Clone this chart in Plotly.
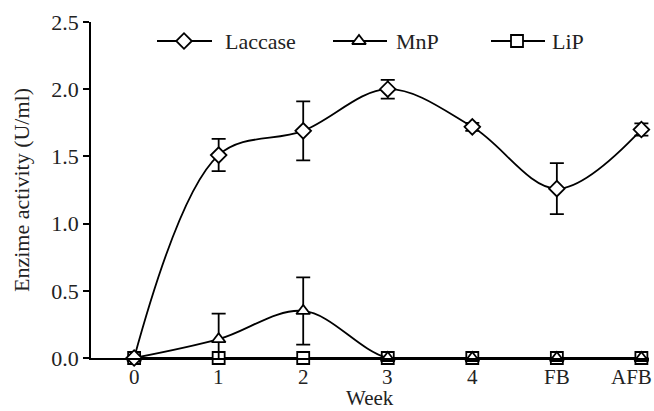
import plotly.graph_objects as go

weeks = ["0", "1", "2", "3", "4", "FB", "AFB"]
laccase = [0.0, 1.51, 1.69, 2.00, 1.72, 1.26, 1.70]
laccase_err = [0.0, 0.12, 0.22, 0.07, 0.03, 0.19, 0.045]
mnp = [0.0, 0.14, 0.35, 0.0, 0.0, 0.0, 0.0]
mnp_err = [0.0, 0.19, 0.25, 0.0, 0.0, 0.0, 0.0]
lip = [0.0, 0.0, 0.0, 0.0, 0.0, 0.0, 0.0]
y_ticks = [0.0, 0.5, 1.0, 1.5, 2.0, 2.5]

series_names = ["Laccase", "MnP", "LiP"]
series_symbols = ["diamond", "triangle-up", "square"]

xs = list(range(len(weeks)))
FONT = "Liberation Serif"
BLACK = "#000000"
TXT = "#222222"

W, H = 654, 411
ML, MR, MT, MB = 91, 5, 22, 53
PW = W - ML - MR
PH = H - MT - MB

def px_to_paper_x(px):
    return (px - ML) / PW

def px_to_paper_y(py):
    return (H - MB - py) / PH

fig = go.Figure()

def add(name, y, err, symbol):
    kw = {}
    if err is not None:
        kw["error_y"] = dict(type="data", array=err, visible=True,
                             color=BLACK, thickness=1.8, width=7)
    fig.add_trace(go.Scatter(
        x=xs, y=y, name=name, mode="lines+markers",
        line=dict(color=BLACK, width=1.8, shape="spline", smoothing=1.0),
        marker=dict(symbol=symbol, size=12, color="white",
                    line=dict(color=BLACK, width=1.8)),
        cliponaxis=False, showlegend=False, **kw,
    ))

add("LiP", lip, None, "square")
add("MnP", mnp, mnp_err, "triangle-up")
add("Laccase", laccase, laccase_err, "diamond")

# manual legend (line start, marker centre, line end, text left) in page px
leg_layout = [(157, 184, 212, 223), (333, 359, 387, 394), (491, 517, 545, 550)]
leg_y = px_to_paper_y(41)
shapes, annots, mk_x, mk_y = [], [], [], []
for name, (x0, xm, x1, xt) in zip(series_names, leg_layout):
    shapes.append(dict(type="line", xref="paper", yref="paper",
                       x0=px_to_paper_x(x0), x1=px_to_paper_x(x1), y0=leg_y, y1=leg_y,
                       line=dict(color=BLACK, width=1.8), layer="below"))
    annots.append(dict(text=name, xref="paper", yref="paper", x=px_to_paper_x(xt), y=leg_y,
                       xanchor="left", yanchor="middle", showarrow=False,
                       font=dict(family=FONT, size=22, color=TXT)))
    mk_x.append(px_to_paper_x(xm))
    mk_y.append(leg_y)

# x tick labels as text (last one nudged left to stay inside the window, as in the reference)
for i, lab in enumerate(weeks):
    annots.append(dict(text=lab, xref="x", yref="paper", x=xs[i], y=px_to_paper_y(377),
                       xanchor="center", yanchor="middle", showarrow=False,
                       xshift=-10 if i == len(weeks) - 1 else 0,
                       font=dict(family=FONT, size=21, color=TXT)))
# x axis title
annots.append(dict(text="Week", xref="paper", yref="paper", x=0.5, y=px_to_paper_y(398),
                   xanchor="center", yanchor="middle", showarrow=False,
                   font=dict(family=FONT, size=21, color=TXT)))

fig.add_trace(go.Scatter(
    x=mk_x, y=mk_y, xaxis="x2", yaxis="y2", mode="markers", showlegend=False,
    marker=dict(symbol=series_symbols, size=12, color="white", line=dict(color=BLACK, width=1.8)),
    hoverinfo="skip", cliponaxis=False,
))

fig.update_layout(
    width=W, height=H,
    margin=dict(l=ML, r=MR, t=MT, b=MB, autoexpand=False),
    paper_bgcolor="white", plot_bgcolor="white",
    showlegend=False,
    font=dict(family=FONT, size=22, color=TXT),
    shapes=shapes, annotations=annots,
    xaxis=dict(
        range=[-0.51, 6.09], tickmode="array", tickvals=xs, showticklabels=False,
        showline=True, linecolor=BLACK, linewidth=1.5, ticks="",
        showgrid=False, zeroline=False, automargin=False,
    ),
    yaxis=dict(
        range=[0, 2.5], tickmode="array", tickvals=y_ticks,
        ticktext=[f"{v:.1f}" for v in y_ticks],
        showline=True, linecolor=BLACK, linewidth=1.5, ticks="outside",
        ticklen=6, tickwidth=1.5, tickcolor=BLACK,
        showgrid=False, zeroline=False, automargin=False,
        title=dict(text="Enzime activity (U/ml)", font=dict(family=FONT, size=22, color=TXT), standoff=16),
        tickfont=dict(family=FONT, size=22, color=TXT),
    ),
    xaxis2=dict(domain=[0, 1], range=[0, 1], overlaying="x", visible=False, fixedrange=True),
    yaxis2=dict(domain=[0, 1], range=[0, 1], overlaying="y", visible=False, fixedrange=True),
)

fig.write_html(
    "out.html",
    config={"displayModeBar": False},
    post_script="document.body.style.margin='0';document.body.style.overflow='hidden';",
)
